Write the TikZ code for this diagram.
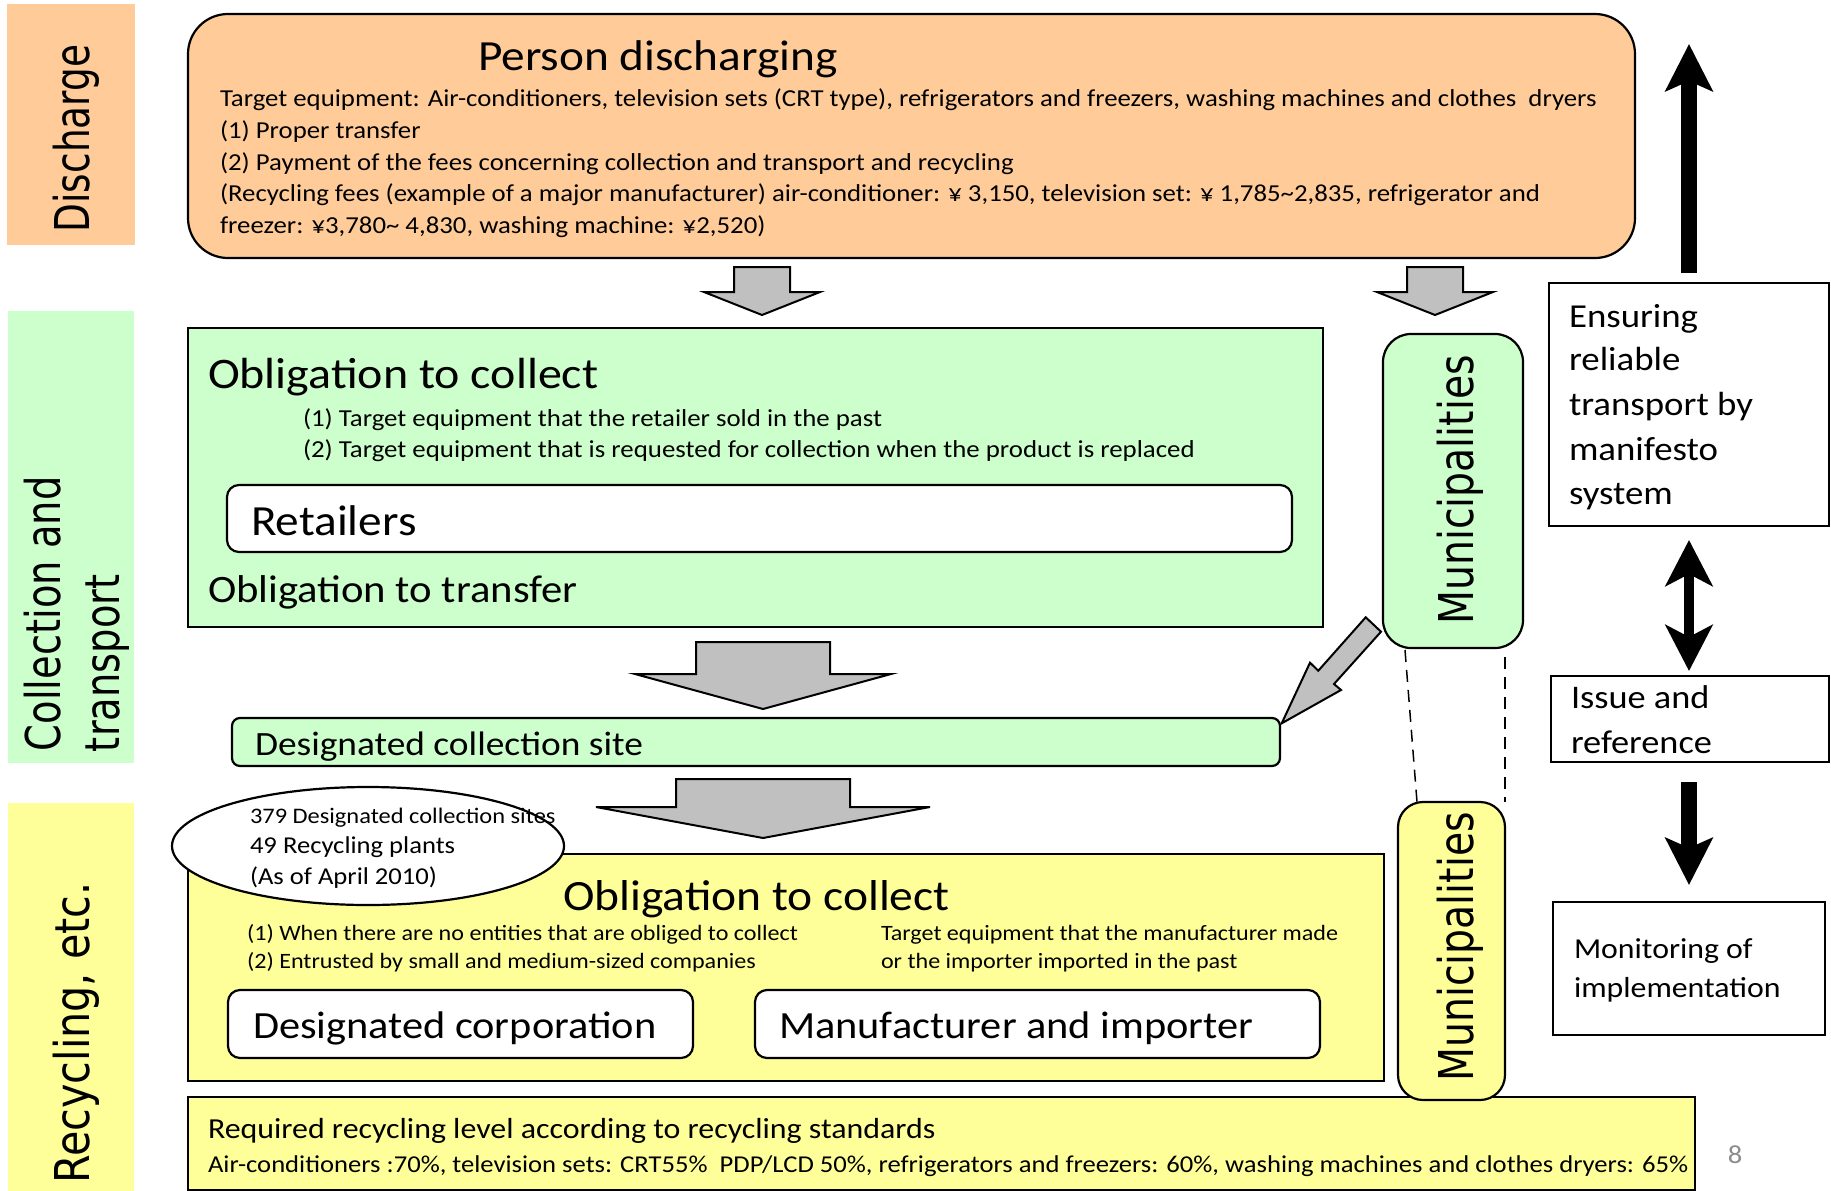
\documentclass[tikz,border=0pt]{standalone}
\usepackage{fontspec}
\setmainfont{Carlito}[FakeStretch=1.1]
\newfontfamily\vfont{DejaVu Sans}
\usetikzlibrary{shapes.geometric,fit,arrows.meta}
\definecolor{orgF}{HTML}{FFCC99}
\definecolor{grnF}{HTML}{CCFFCC}
\definecolor{yelF}{HTML}{FFFF99}
\definecolor{grayA}{HTML}{C0C0C0}
\definecolor{pgnum}{HTML}{8C8C8C}
\newcommand\myfs[1]{\fontsize{#1}{#1}\selectfont}
\newcommand\vlab[2]{\scalebox{#1}[1]{\vfont\myfs{48}#2}}
\newcommand\downblock[7]{\draw[garrow] ({#1-#3},#2) -- ({#1+#3},#2) -- ({#1+#3},#4) -- ({#1+#5},#4) -- (#1,#6) -- ({#1-#5},#4) -- ({#1-#3},#4) -- cycle; \coordinate (#7) at (#1,#6);}
\begin{document}
\begin{tikzpicture}[x=1pt,y=-1pt,
  txt/.style={anchor=base west, inner sep=0, outer sep=0},
  bx/.style={draw, line width=2.2pt, inner sep=0, outer sep=0},
  band/.style={inner sep=0, outer sep=0},
  vl/.style={rotate=90, inner sep=0, outer sep=0},
  garrow/.style={draw, line width=2pt, fill=grayA, line join=miter},
  blk/.style={line width=16pt, -{Stealth[length=47pt,width=47pt,inset=10pt]}},
  blkd/.style={line width=10pt, {Stealth[length=46pt,width=47pt,inset=12pt]}-{Stealth[length=46pt,width=47pt,inset=12pt]}},
  dsh/.style={line width=1.5pt, dash pattern=on 12pt off 8pt}]
\useasboundingbox (0,0) rectangle (1831,1191);
\fill[white] (0,0) rectangle (1831,1191);

% side bands
\node[band, fill=orgF, fit={(7,4) (135,245)}] (bandD) {};
\node[band, fill=grnF, fit={(8,311) (134,763)}] (bandC) {};
\node[band, fill=yelF, fit={(8,803) (134,1191)}] (bandR) {};
\node[vl, anchor=base] (labD) at (89,138.5) {\vlab{0.78}{Discharge}};
\node[vl, anchor=base west] (labC1) at (60,751) {\vlab{0.80}{Collection and}};
\node[vl, anchor=base west] (labC2) at (119,752) {\vlab{0.80}{transport}};
\node[vl, anchor=base] (labR) at (89,1033) {\vlab{0.86}{Recycling, etc.}};

% person discharging
\node[bx, fill=orgF, rounded corners=40pt, fit={(188,14) (1635,258)}] (person) {};
\node[txt] (ptitle) at (478,70) {\myfs{43}Person discharging};
\node[txt] (pl1) at (220,106) {\myfs{24.35}Target equipment: Air-conditioners, television sets (CRT type), refrigerators and freezers, washing machines and clothes~ dryers};
\node[txt] (pl2) at (220,138) {\myfs{24.35}(1) Proper transfer};
\node[txt] (pl3) at (220,170) {\myfs{24.35}(2) Payment of the fees concerning collection and transport and recycling};
\node[txt] (pl4) at (220,201.5) {\myfs{24.35}(Recycling fees (example of a major manufacturer) air-conditioner: ¥ 3,150, television set: ¥ 1,785\textasciitilde 2,835, refrigerator and};
\node[txt] (pl5) at (220,233) {\myfs{24.35}freezer: ¥3,780\textasciitilde{} 4,830, washing machine: ¥2,520)};

% gray block arrows from person
\downblock{762}{267}{28}{292}{58}{315}{a1tip}
\downblock{1435}{267}{28}{292}{58}{315}{a2tip}

% obligation (green)
\node[bx, fill=grnF, fit={(188,328) (1323,627)}] (oblg) {};
\node[txt] (og1) at (208,388) {\myfs{43.6}Obligation to collect};
\node[txt] (og2) at (303,426) {\myfs{24.4}(1) Target equipment that the retailer sold in the past};
\node[txt] (og3) at (303,457) {\myfs{24.4}(2) Target equipment that is requested for collection when the product is replaced};
\node[bx, fill=white, rounded corners=12pt, fit={(227,485) (1292,552)}] (ret) {};
\node[txt] (rett) at (251,535) {\myfs{43}Retailers};
\node[txt] (og4) at (208,602) {\myfs{38.8}Obligation to transfer};

% diagonal arrow and municipalities (green)
\draw[garrow] (1365.7,617.3) -- (1318.3,670.7) -- (1310,662.7) -- (1281.7,723.3) -- (1341,690) -- (1334,684) -- (1381,631.7) -- cycle;
\node[bx, fill=grnF, rounded corners=28pt, fit={(1383,334) (1523,648)}] (muni1) {};
\node[vl, anchor=base] (muni1t) at (1473,490) {\vlab{0.82}{Municipalities}};

% arrow to designated site
\downblock{763}{642}{67}{674}{128}{709}{a3tip}
\node[bx, fill=grnF, rounded corners=8pt, fit={(232,718) (1280,766)}] (site) {};
\node[txt] (sitet) at (255,755) {\myfs{34}Designated collection site};
\downblock{763}{779}{87}{807}{167}{838}{a4tip}

% dashed links
\coordinate (dA1) at (1405,650);
\coordinate (dA2) at (1417,802);
\coordinate (dB1) at (1505,657);
\coordinate (dB2) at (1505,802);
\draw[dsh] (dA1) -- (dA2);
\draw[dsh] (dB1) -- (dB2);

% yellow obligation box
\node[bx, fill=yelF, fit={(188,854) (1384,1081)}] (obly) {};
\node[bx, fill=white, ellipse, minimum width=392pt, minimum height=118pt] (ell) at (368,846) {};
\node[txt] (e1) at (250,823) {\myfs{22.2}379 Designated collection sites};
\node[txt] (e2) at (250,853) {\myfs{24.2}49 Recycling plants};
\node[txt] (e3) at (250,884) {\myfs{24.2}(As of April 2010)};
\node[txt] (oy1) at (563,910) {\myfs{43.2}Obligation to collect};
\node[txt] (oy2) at (247,940) {\myfs{21.9}(1) When there are no entities that are obliged to collect};
\node[txt] (oy3) at (247,968) {\myfs{21.9}(2) Entrusted by small and medium-sized companies};
\node[txt] (oy4) at (881,940) {\myfs{21.9}Target equipment that the manufacturer made};
\node[txt] (oy5) at (881,968) {\myfs{21.9}or the importer imported in the past};
\node[bx, fill=white, rounded corners=12pt, fit={(228,990) (693,1058)}] (dcorp) {};
\node[txt] (dcorpt) at (253,1038) {\myfs{38.5}Designated corporation};
\node[bx, fill=white, rounded corners=12pt, fit={(755,990) (1320,1058)}] (manu) {};
\node[txt] (manut) at (779,1038) {\myfs{38.5}Manufacturer and importer};

% bottom box
\node[bx, fill=yelF, fit={(188,1097) (1695,1190)}] (req) {};
\node[txt] (rq1) at (208,1138) {\myfs{29}Required recycling level according to recycling standards};
\node[txt] (rq2) at (208,1172) {\myfs{24.2}Air-conditioners :70\%, television sets: CRT55\%~ PDP/LCD 50\%, refrigerators and freezers: 60\%, washing machines and clothes dryers: 65\%};

% municipalities (yellow)
\node[bx, fill=yelF, rounded corners=25pt, fit={(1398,802) (1505,1100)}] (muni2) {};
\node[vl, anchor=base] (muni2t) at (1473,947) {\vlab{0.82}{Municipalities}};

% right column
\node[bx, fill=white, fit={(1549,283) (1829,526)}] (ens) {};
\node[txt] (en1) at (1569,327) {\myfs{33.5}Ensuring};
\node[txt] (en2) at (1569,370) {\myfs{33.5}reliable};
\node[txt] (en3) at (1569,415) {\myfs{33.5}transport by};
\node[txt] (en4) at (1569,460) {\myfs{33.5}manifesto};
\node[txt] (en5) at (1569,504) {\myfs{33.5}system};
\node[bx, fill=white, fit={(1551,676) (1829,762)}] (iss) {};
\node[txt] (is1) at (1571,708) {\myfs{33}Issue and};
\node[txt] (is2) at (1571,753) {\myfs{33}reference};
\node[bx, fill=white, fit={(1553,902) (1825,1035)}] (mon) {};
\node[txt] (mo1) at (1574,958) {\myfs{28.9}Monitoring of};
\node[txt] (mo2) at (1574,997) {\myfs{28.9}implementation};

% black arrows
\coordinate (upS) at (1689,273);
\coordinate (upE) at (1689,44);
\draw[blk] (upS) -- (upE);
\coordinate (dbS) at (1689,540);
\coordinate (dbE) at (1689,671);
\draw[blkd] (dbS) -- (dbE);
\coordinate (dnS) at (1689,782);
\coordinate (dnE) at (1689,885);
\draw[blk] (dnS) -- (dnE);

% page number
\node[anchor=base, inner sep=0, text=pgnum] (pg) at (1735,1163) {\myfs{26}8};
\end{tikzpicture}
\end{document}
